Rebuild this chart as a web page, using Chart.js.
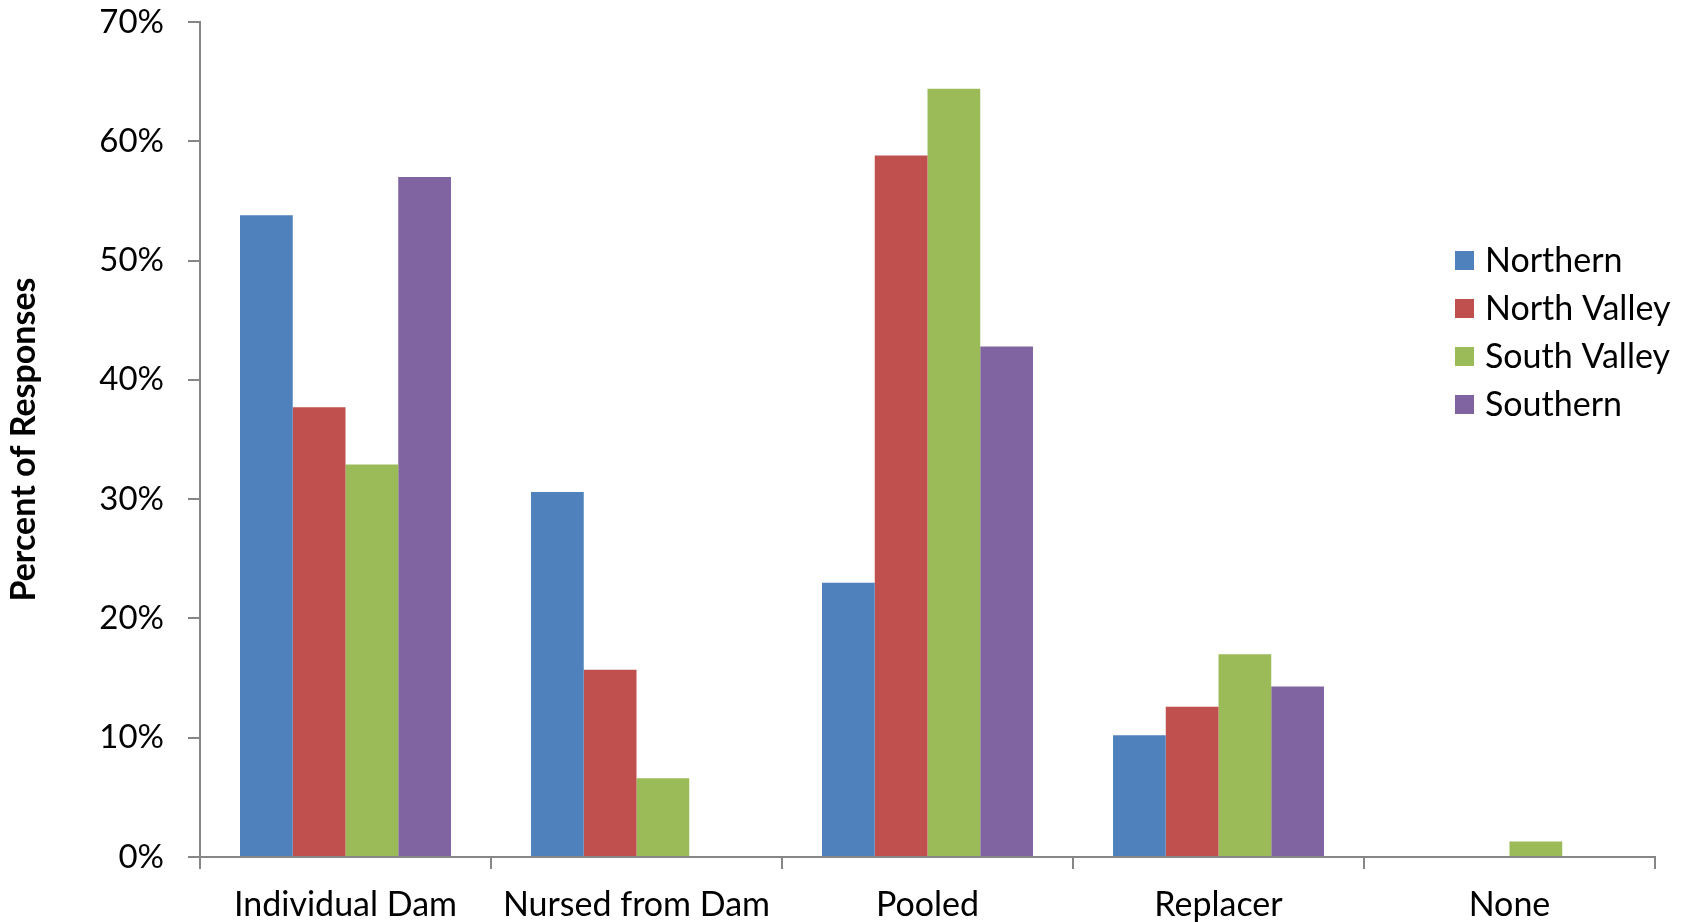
<!DOCTYPE html>
<html>
<head>
<meta charset="utf-8">
<script src="https://cdn.jsdelivr.net/npm/chart.js@4"></script>
<style>
  html, body { margin: 0; padding: 0; background: #ffffff; }
  #wrap { width: 1688px; height: 922px; position: relative; }
</style>
</head>
<body>
<div id="wrap"><canvas id="c" width="1688" height="922"></canvas></div>
<script>
const categories = ["Individual Dam", "Nursed from Dam", "Pooled", "Replacer", "None"];
const seriesNames = ["Northern", "North Valley", "South Valley", "Southern"];
const northern    = [53.8, 30.6, 23.0, 10.2, 0];
const northValley = [37.7, 15.7, 58.8, 12.6, 0];
const southValley = [32.9, 6.6, 64.4, 17.0, 1.3];
const southern    = [57.0, 0, 42.8, 14.3, 0];
const yTicks = [0, 10, 20, 30, 40, 50, 60, 70];
const yTitle = "Percent of Responses";

const colors = ["#4F81BD", "#C0504D", "#9BBB59", "#8064A2"];
const FONT = "Lato, 'Open Sans', sans-serif";
const seriesValues = [northern, northValley, southValley, southern];

const legendPlugin = {
  id: 'customLegend',
  afterDraw(chart) {
    const ctx = chart.ctx;
    ctx.save();
    ctx.font = "34px " + FONT;
    ctx.textBaseline = 'middle';
    ctx.textAlign = 'left';
    chart.data.datasets.forEach((ds, i) => {
      const cy = 260 + i * 48;
      ctx.fillStyle = ds.backgroundColor;
      ctx.fillRect(1455, cy - 9, 19, 19);
      ctx.fillStyle = '#000';
      ctx.fillText(ds.label, 1485, cy + 1);
    });
    ctx.restore();
  }
};

new Chart(document.getElementById('c'), {
  type: 'bar',
  data: {
    labels: categories,
    datasets: seriesNames.map((n, i) => ({
      label: n,
      data: seriesValues[i],
      backgroundColor: colors[i],
      borderWidth: 0,
      categoryPercentage: 0.725,
      barPercentage: 1.0
    }))
  },
  options: {
    responsive: false,
    animation: false,
    devicePixelRatio: 1,
    layout: { padding: { left: 0, right: 33, top: 22, bottom: 0 } },
    plugins: { legend: { display: false }, tooltip: { enabled: false } },
    scales: {
      x: {
        grid: { display: true, drawOnChartArea: false, offset: true, color: '#868686', lineWidth: 2, tickLength: 12 },
        border: { color: '#868686', width: 2 },
        ticks: { color: '#000', font: { family: FONT, size: 34 }, padding: 16, maxRotation: 0 },
        afterFit(scale) { scale.height = 65; scale.paddingLeft = 0; scale.paddingRight = 0; }
      },
      y: {
        min: 0, max: 70,
        afterBuildTicks(scale) { scale.ticks = yTicks.map(v => ({ value: v })); },
        grid: { display: true, drawOnChartArea: false, color: '#868686', lineWidth: 2, tickLength: 12 },
        border: { color: '#868686', width: 2 },
        ticks: { color: '#000', font: { family: FONT, size: 33 }, padding: 24, callback: v => v + '%' },
        title: { display: true, text: yTitle, color: '#000', font: { family: FONT, size: 34, weight: 'bold', lineHeight: 1.2 }, padding: { top: 4, bottom: 0 } },
        afterFit(scale) { scale.width = 200; scale.paddingTop = 0; scale.paddingBottom = 0; }
      }
    }
  },
  plugins: [legendPlugin]
});
</script>
</body>
</html>
